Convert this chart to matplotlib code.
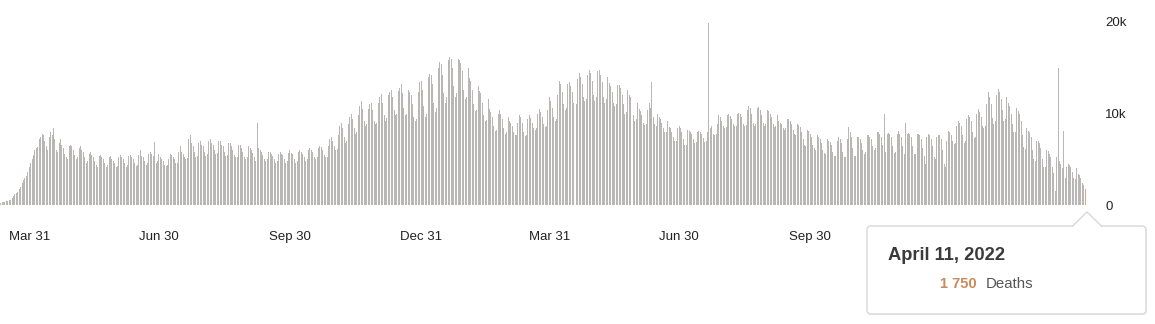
import pandas as pd
import numpy as np
import matplotlib.pyplot as plt
from matplotlib.patches import FancyBboxPatch, Polygon
from matplotlib.transforms import IdentityTransform

plt.rcParams['font.family'] = ['Liberation Sans', 'DejaVu Sans']

# daily deaths, in hundreds, starting 2020-03-11 (one week per line)
start_date = "2020-03-11"
deaths_h = [
    2, 3, 3, 3, 4, 4, 5,
    6, 8, 10, 12, 13, 14, 17,
    20, 24, 27, 30, 32, 36, 42,
    46, 50, 55, 60, 62, 63, 72,
    74, 78, 76, 70, 64, 60, 74,
    80, 76, 84, 72, 60, 58, 68,
    72, 66, 62, 56, 52, 50, 64,
    66, 64, 60, 55, 50, 52, 62,
    64, 60, 58, 52, 46, 48, 56,
    58, 55, 52, 48, 44, 42, 54,
    55, 52, 50, 46, 42, 44, 52,
    54, 50, 48, 46, 42, 43, 52,
    55, 52, 50, 46, 42, 44, 54,
    55, 52, 50, 46, 43, 44, 55,
    60, 54, 52, 48, 44, 46, 56,
    58, 56, 54, 69, 46, 48, 56,
    52, 50, 48, 44, 43, 44, 50,
    56, 55, 53, 50, 46, 46, 58,
    64, 58, 56, 52, 50, 51, 72,
    76, 68, 64, 58, 52, 54, 68,
    70, 66, 64, 58, 54, 56, 70,
    72, 68, 66, 60, 56, 57, 70,
    70, 66, 64, 58, 54, 55, 68,
    68, 64, 60, 55, 52, 53, 66,
    66, 62, 58, 52, 50, 52, 64,
    62, 60, 57, 52, 48, 90, 62,
    60, 58, 55, 50, 48, 50, 58,
    58, 56, 54, 50, 46, 48, 56,
    58, 56, 55, 50, 46, 48, 57,
    60, 57, 56, 50, 46, 48, 58,
    60, 58, 56, 52, 48, 50, 60,
    62, 60, 58, 53, 50, 52, 62,
    64, 63, 60, 55, 52, 53, 65,
    72, 74, 70, 64, 60, 61, 76,
    86, 90, 84, 74, 68, 70, 88,
    96, 100, 94, 84, 78, 80, 98,
    108, 114, 105, 92, 86, 88, 105,
    110, 112, 104, 92, 88, 90, 112,
    118, 121, 112, 98, 92, 95, 120,
    124, 126, 118, 104, 98, 100, 125,
    128, 132, 122, 106, 98, 100, 126,
    124, 120, 110, 96, 92, 94, 124,
    134, 136, 126, 108, 96, 100, 140,
    143, 142, 132, 112, 102, 106, 150,
    156, 154, 142, 122, 112, 118, 158,
    162, 160, 150, 130, 118, 122, 160,
    158, 155, 146, 126, 116, 118, 150,
    139, 136, 126, 110, 103, 104, 130,
    125, 122, 112, 98, 92, 93, 116,
    105, 102, 96, 86, 81, 82, 100,
    104, 100, 94, 84, 78, 80, 96,
    92, 90, 86, 80, 76, 76, 90,
    98, 96, 90, 80, 75, 77, 94,
    98, 95, 90, 84, 82, 84, 100,
    105, 102, 96, 88, 85, 86, 104,
    118, 114, 106, 96, 92, 94, 120,
    136, 132, 124, 110, 104, 106, 132,
    134, 130, 124, 112, 107, 110, 138,
    144, 140, 132, 118, 114, 116, 142,
    147, 144, 136, 120, 114, 118, 146,
    147, 142, 134, 118, 112, 116, 140,
    133, 130, 124, 112, 108, 110, 131,
    131, 128, 120, 110, 100, 102, 126,
    120, 118, 110, 98, 92, 94, 112,
    105, 103, 98, 90, 87, 88, 104,
    112, 106, 134, 96, 88, 86, 100,
    96, 94, 90, 84, 80, 80, 92,
    85, 84, 80, 74, 70, 70, 84,
    86, 84, 80, 72, 66, 66, 82,
    81, 80, 78, 72, 68, 69, 80,
    81, 80, 78, 73, 69, 70, 80,
    199, 84, 86, 78, 76, 78, 89,
    98, 96, 92, 86, 84, 85, 98,
    99, 97, 94, 88, 86, 86, 100,
    101, 100, 96, 88, 86, 87, 104,
    108, 106, 100, 90, 86, 88, 106,
    107, 104, 98, 90, 86, 88, 104,
    103, 100, 96, 88, 85, 86, 98,
    92, 90, 88, 84, 82, 84, 94,
    94, 92, 88, 82, 78, 76, 88,
    87, 85, 80, 72, 66, 64, 82,
    81, 78, 74, 66, 62, 60, 76,
    74, 72, 68, 60, 57, 56, 72,
    70, 69, 66, 58, 54, 54, 70,
    74, 72, 68, 58, 52, 52, 72,
    85, 80, 74, 62, 54, 54, 74,
    74, 72, 68, 60, 56, 58, 76,
    76, 74, 72, 64, 60, 62, 80,
    80, 78, 74, 66, 100, 58, 78,
    79, 78, 74, 64, 57, 58, 78,
    81, 78, 74, 64, 56, 90, 78,
    79, 78, 74, 64, 56, 56, 78,
    78, 76, 72, 62, 54, 45, 74,
    78, 76, 72, 64, 52, 50, 74,
    77, 76, 72, 60, 45, 41, 70,
    81, 80, 76, 70, 67, 68, 86,
    92, 90, 86, 76, 68, 70, 94,
    98, 96, 92, 80, 73, 74, 100,
    105, 102, 96, 86, 84, 86, 110,
    123, 118, 110, 95, 89, 92, 120,
    127, 124, 116, 104, 92, 94, 118,
    112, 108, 100, 88, 80, 80, 106,
    103, 100, 92, 76, 63, 61, 84,
    81, 80, 74, 60, 50, 48, 70,
    70, 68, 62, 50, 42, 41, 60,
    59, 56, 52, 42, 35, 15, 52,
    150, 48, 45, 40, 81, 30, 42,
    45, 44, 42, 36, 30, 28, 40,
    34, 33, 30, 24, 22, 17.5,
]

tick_dates = ["2020-03-31", "2020-06-30", "2020-09-30", "2020-12-31",
              "2021-03-31", "2021-06-30", "2021-09-30", "2021-12-31",
              "2022-03-31"]
tick_labels = ["Mar 31", "Jun 30", "Sep 30", "Dec 31",
               "Mar 31", "Jun 30", "Sep 30", "Dec 31", "Mar 31"]
y_ticks = [0, 10000, 20000]
y_labels = ["0", "10k", "20k"]

tip_date = "April 11, 2022"
tip_value = "1 750"
tip_unit = "Deaths"

deaths = np.array(deaths_h) * 100
t0 = pd.Timestamp(start_date)
days = np.arange(len(deaths))
tick_pos = [(pd.Timestamp(d) - t0).days for d in tick_dates]

W, H = 1155, 324
fig = plt.figure(figsize=(W / 100, H / 100), dpi=100)
ax = fig.add_axes([0, (H - 205) / H, 1092 / W, 183 / H])

colors = ['#bab6b6'] * len(deaths)
colors[-1] = '#e0a57a'
ax.bar(days, deaths, width=0.7, color=colors, linewidth=0)

ax.set_xlim(-0.5, 765.8)
ax.set_ylim(0, 20000)
for s in ax.spines.values():
    s.set_visible(False)
ax.yaxis.tick_right()
ax.set_yticks(y_ticks)
ax.set_yticklabels(y_labels)
ax.set_xticks(tick_pos)
ax.set_xticklabels(tick_labels)
ax.tick_params(axis='y', length=0, pad=9.5, labelsize=9.5, labelcolor='#222222')
ax.tick_params(axis='x', length=0, pad=19, labelsize=9.5, labelcolor='#222222')

# tooltip (pixel coords, y flipped)
def py(y):
    return H - y

shadow = FancyBboxPatch((868, py(315)), 279, 89,
                        boxstyle="round,pad=0,rounding_size=4",
                        transform=IdentityTransform(), facecolor='#f0f0f0',
                        edgecolor='none', zorder=9)
box = FancyBboxPatch((867, py(314)), 279, 88,
                     boxstyle="round,pad=0,rounding_size=4",
                     transform=IdentityTransform(), facecolor='white',
                     edgecolor='#d8d8d8', linewidth=1, zorder=10)
fig.add_artist(shadow)
fig.add_artist(box)
tri = Polygon([(1072, py(226.5)), (1087, py(212)), (1102, py(226.5))],
              closed=False, transform=IdentityTransform(), facecolor='white',
              edgecolor='#d8d8d8', linewidth=1, zorder=11)
fig.add_artist(tri)
cover = Polygon([(1073.5, py(227.5)), (1087, py(214)), (1100.5, py(227.5))],
                closed=True, transform=IdentityTransform(), facecolor='white',
                edgecolor='none', zorder=12)
fig.add_artist(cover)

fig.text(888 / W, 1 - 256 / H, tip_date, fontsize=13.2, fontweight='bold',
         color='#3a3a3a', va='center', ha='left', zorder=13)
fig.text(940 / W, 1 - 284 / H, tip_value, fontsize=10.5, fontweight='bold',
         color='#c98a5c', va='center', ha='left', zorder=13)
fig.text(986 / W, 1 - 284 / H, tip_unit, fontsize=10.8,
         color='#555555', va='center', ha='left', zorder=13)

fig.savefig("out.png", dpi=100)
